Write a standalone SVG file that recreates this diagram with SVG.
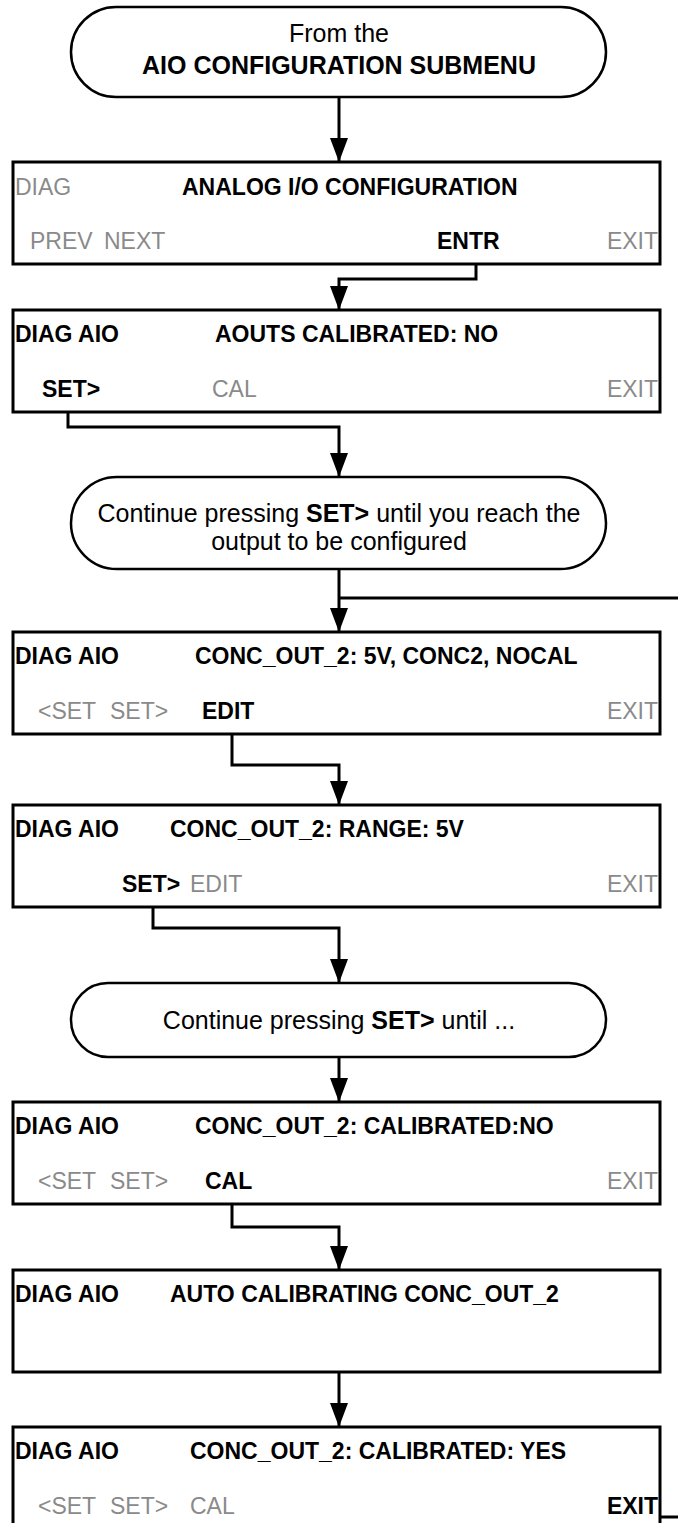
<svg xmlns="http://www.w3.org/2000/svg" width="678" height="1523" viewBox="0 0 678 1523">
<defs>
<marker id="ah" viewBox="0 0 24 18" refX="24" refY="9" markerWidth="24" markerHeight="18" markerUnits="userSpaceOnUse" orient="auto">
<path d="M0,0 L24,9 L0,18 Z" fill="#000"/>
</marker>
<style>
text{font-family:"Liberation Sans",Arial,sans-serif;font-size:23px;fill:#000}
.t{font-size:25px}
.b{font-weight:bold}
.g{fill:#8a8a8a}
.box{fill:#fff;stroke:#000;stroke-width:3}
.term{fill:#fff;stroke:#000;stroke-width:2.5}
.c{fill:none;stroke:#000;stroke-width:3}
.ca{fill:none;stroke:#000;stroke-width:3;marker-end:url(#ah)}
</style>
</defs>
<rect width="678" height="1523" fill="#fff"/>
<g id="connectors">
<line class="ca" x1="339" y1="97" x2="339" y2="162"/>
<polyline class="ca" points="476,264 476,279 339,279 339,310"/>
<polyline class="ca" points="68,400 68,427 339,427 339,477"/>
<line class="ca" x1="339" y1="569" x2="339" y2="632"/>
<line class="c" x1="339" y1="598" x2="678" y2="598"/>
<polyline class="ca" points="232,722 232,765 339,765 339,805"/>
<polyline class="ca" points="153,895 153,928 339,928 339,983"/>
<line class="ca" x1="339" y1="1057" x2="339" y2="1102"/>
<polyline class="ca" points="232,1192 232,1227 339,1227 339,1270"/>
<line class="ca" x1="339" y1="1372" x2="339" y2="1427"/>
<line class="c" x1="660" y1="1517" x2="678" y2="1517"/>
</g>
<g id="start">
<rect class="term" x="71" y="7" width="535" height="90" rx="45" ry="45"/>
<text class="t" x="339" y="42" text-anchor="middle">From the</text>
<text class="t b" x="339" y="74" text-anchor="middle">AIO CONFIGURATION SUBMENU</text>
</g>
<g id="box1">
<rect class="box" x="13" y="162" width="647" height="102"/>
<text class="g" x="15" y="195">DIAG</text>
<text class="b" x="182" y="195">ANALOG I/O CONFIGURATION</text>
<text class="g" x="30" y="249">PREV</text>
<text class="g" x="104" y="249">NEXT</text>
<text class="b" x="437" y="249">ENTR</text>
<text class="g" x="658" y="249" text-anchor="end">EXIT</text>
</g>
<g id="box2">
<rect class="box" x="13" y="310" width="647" height="102"/>
<text class="b" x="15" y="342">DIAG AIO</text>
<text class="b" x="215" y="342">AOUTS CALIBRATED: NO</text>
<text class="b" x="42" y="397">SET&gt;</text>
<text class="g" x="212" y="397">CAL</text>
<text class="g" x="658" y="397" text-anchor="end">EXIT</text>
</g>
<g id="term2">
<rect class="term" x="71" y="477" width="535" height="92" rx="46" ry="46"/>
<text class="t" x="339" y="522" text-anchor="middle">Continue pressing <tspan class="b">SET&gt;</tspan> until you reach the</text>
<text class="t" x="339" y="550" text-anchor="middle">output to be configured</text>
</g>
<g id="box3">
<rect class="box" x="13" y="632" width="647" height="102"/>
<text class="b" x="15" y="664">DIAG AIO</text>
<text class="b" x="195" y="664">CONC_OUT_2: 5V, CONC2, NOCAL</text>
<text class="g" x="38" y="719">&lt;SET</text>
<text class="g" x="110" y="719">SET&gt;</text>
<text class="b" x="202" y="719">EDIT</text>
<text class="g" x="658" y="719" text-anchor="end">EXIT</text>
</g>
<g id="box4">
<rect class="box" x="13" y="805" width="647" height="102"/>
<text class="b" x="15" y="837">DIAG AIO</text>
<text class="b" x="170" y="837">CONC_OUT_2: RANGE: 5V</text>
<text class="b" x="122" y="892">SET&gt;</text>
<text class="g" x="190" y="892">EDIT</text>
<text class="g" x="658" y="892" text-anchor="end">EXIT</text>
</g>
<g id="term3">
<rect class="term" x="71" y="983" width="535" height="74" rx="37" ry="37"/>
<text class="t" x="339" y="1029" text-anchor="middle">Continue pressing <tspan class="b">SET&gt;</tspan> until ...</text>
</g>
<g id="box5">
<rect class="box" x="13" y="1102" width="647" height="102"/>
<text class="b" x="15" y="1134">DIAG AIO</text>
<text class="b" x="195" y="1134">CONC_OUT_2: CALIBRATED:NO</text>
<text class="g" x="38" y="1189">&lt;SET</text>
<text class="g" x="110" y="1189">SET&gt;</text>
<text class="b" x="205" y="1189">CAL</text>
<text class="g" x="658" y="1189" text-anchor="end">EXIT</text>
</g>
<g id="box6">
<rect class="box" x="13" y="1270" width="647" height="102"/>
<text class="b" x="15" y="1302">DIAG AIO</text>
<text class="b" x="170" y="1302">AUTO CALIBRATING CONC_OUT_2</text>
</g>
<g id="box7">
<rect class="box" x="13" y="1427" width="647" height="102"/>
<text class="b" x="15" y="1459">DIAG AIO</text>
<text class="b" x="190" y="1459">CONC_OUT_2: CALIBRATED: YES</text>
<text class="g" x="38" y="1514">&lt;SET</text>
<text class="g" x="110" y="1514">SET&gt;</text>
<text class="g" x="190" y="1514">CAL</text>
<text class="b" x="658" y="1514" text-anchor="end">EXIT</text>
</g>
</svg>
